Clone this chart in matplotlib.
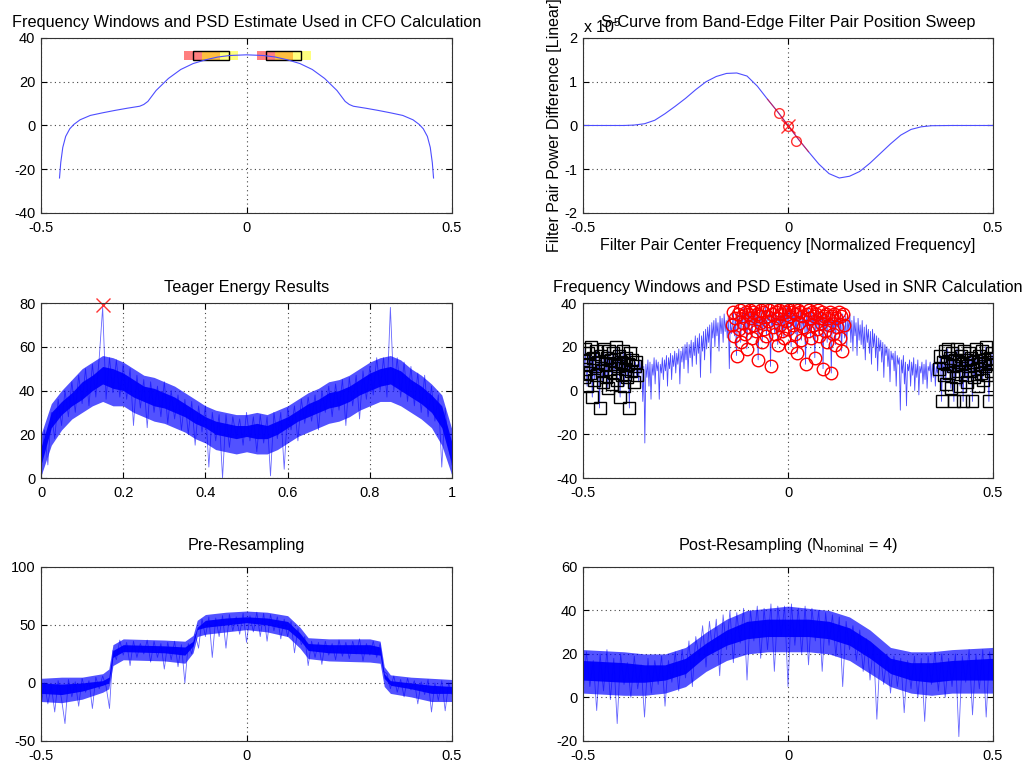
"""Six-panel receiver diagnostics figure (CFO, S-curve, Teager, SNR, resampling)."""

import matplotlib

matplotlib.use("Agg")
import matplotlib.pyplot as plt
import numpy as np
from matplotlib.patches import Rectangle
from matplotlib.ticker import FormatStrFormatter

# ---------------------------------------------------------------- data
# CFO panel: smoothed PSD estimate (dB) and the two band-edge windows
cfo_freq = [-0.455, -0.452, -0.447, -0.44, -0.43, -0.42, -0.405, -0.38, -0.35,
            -0.32, -0.29, -0.26, -0.25, -0.24, -0.22, -0.19, -0.16, -0.13, -0.10,
            -0.07, -0.04, 0.0, 0.04, 0.07, 0.10, 0.13, 0.16, 0.19, 0.22, 0.24,
            0.25, 0.26, 0.29, 0.32, 0.35, 0.38, 0.405, 0.42, 0.43, 0.44, 0.447,
            0.452, 0.455]
cfo_psd = [-24, -17, -10, -5, -1.5, 0.5, 2.6, 4.6, 5.8, 6.9, 7.9, 8.8, 9.6, 11,
           16, 21.5, 25.6, 28.3, 30, 31.3, 32, 32.3, 32, 31.3, 30, 28.3, 25.6,
           21.5, 16, 11, 9.6, 8.8, 7.9, 6.9, 5.8, 4.6, 2.6, 0.5, -1.5, -5, -10,
           -17, -24]
cfo_red_windows = [(-0.152, -0.064), (0.025, 0.112)]
cfo_yellow_windows = [(-0.109, -0.021), (0.069, 0.156)]
cfo_box_windows = [(-0.131, -0.043), (0.047, 0.133)]
cfo_window_db = (30, 34)

# S-curve (power difference, units of 1e5)
scurve_freq = [-0.5, -0.4, -0.375, -0.35, -0.325, -0.3, -0.275, -0.25, -0.225,
               -0.2, -0.175, -0.15, -0.125, -0.1, -0.075, -0.05, -0.025, 0.0,
               0.025, 0.05, 0.075, 0.1, 0.125, 0.15, 0.175, 0.2, 0.225, 0.25,
               0.275, 0.3, 0.325, 0.35, 0.4, 0.5]
scurve_diff = [0, 0, 0.01, 0.04, 0.12, 0.27, 0.44, 0.62, 0.82, 1.0, 1.12, 1.19,
               1.2, 1.13, 0.9, 0.6, 0.31, 0.0, -0.31, -0.6, -0.88, -1.1, -1.2,
               -1.16, -1.05, -0.86, -0.64, -0.42, -0.22, -0.09, -0.03, -0.005, 0,
               0]
scurve_fit_freq = [-0.023, 0.0195]
scurve_fit_diff = [0.28, -0.35]
scurve_zero = (0.0, -0.02)

# Teager energy (x in 0..1): outer spread, dense core and a sampled trace
teager_outer_hi = [20, 34, 40, 45, 50, 53, 56, 55, 53, 50, 47, 46, 44, 42, 39, 36,
                   33, 31, 30, 29, 29, 30, 29, 31, 33, 36, 39, 41, 44, 45, 47, 50,
                   53, 55, 56, 54, 50, 47, 43, 38, 22]
teager_outer_lo = [1, 15, 22, 27, 30, 33, 35, 33, 33, 30, 28, 26, 25, 23, 21, 18,
                   16, 13, 12, 11, 12, 11, 11, 13, 16, 19, 21, 23, 25, 26, 28, 31,
                   33, 35, 35, 33, 30, 27, 23, 15, 1]
teager_core_hi = [14, 30, 35, 39, 44, 47, 51, 50, 48, 45, 42, 41, 39, 37, 34, 31,
                  28, 26, 25, 24, 24, 25, 24, 26, 28, 31, 34, 36, 39, 40, 42, 45,
                  48, 50, 51, 49, 45, 42, 38, 33, 16]
teager_core_lo = [6, 23, 29, 33, 36, 40, 43, 41, 40, 37, 35, 33, 32, 30, 28, 25,
                  23, 20, 19, 18, 19, 18, 18, 20, 23, 26, 28, 30, 32, 33, 35, 38,
                  40, 42, 43, 40, 37, 34, 30, 23, 6]
teager_trace = [3, 22, 6, 30, 18, 36, 24, 40, 28, 44, 30, 47, 34, 50, 33, 52, 37,
                55, 78, 36, 55, 39, 54, 37, 52, 36, 50, 24, 47, 32, 45, 23, 44,
                30, 42, 28, 44, 25, 40, 27, 38, 22, 36, 20, 35, 15, 33, 21, 33, 5,
                30, 17, 29, 0, 29, 14, 28, 19, 27, 15, 30, 17, 28, 12, 29, 16, 28,
                1, 30, 18, 30, 4, 32, 22, 33, 17, 36, 25, 37, 26, 38, 22, 40, 30,
                42, 28, 43, 31, 45, 24, 46, 33, 47, 27, 49, 36, 51, 38, 55, 40, 55,
                37, 78, 40, 55, 37, 53, 35, 51, 33, 48, 30, 47, 28, 42, 26, 38, 5,
                32, 14, 6]
teager_peak = (0.15, 79)

# SNR panel: PSD estimate (dB) on a uniform grid from -0.5 to 0.5
snr_noise_left = [14, 6, 19, 10, 2, 17, 12, 8, 20, -3, 15, 5, 11, 18, 7, 13, -8,
                  16, 9, 4, 19, 12, 6, 15, 1, 18, 10, 14, 3, 17, 8, 12, 20, 5, 11,
                  16, -3, 13, 7, 18, 2, 10, 15, 6, 12, -8, 17, 9, 14, 4, 11, 13, 7]
snr_rise = [12, 4, 14, 8, 13, -5, 11, -24, 12, 6, 14, 2, 13, -4, 12, 7, 15, 3, 14,
            9, 13, -4, 12, 8, 15, 5, 14, 9, 16, 2, 15, 10, 17, 5, 16, 11, 18, 8,
            17, 12, 19, 3, 18, 13, 20, 10, 21, 14, 22, 8, 21, 15, 23, 11, 22, 16,
            25, 12, 24, 17, 26, 6, 25, 18, 27, 14, 28, 19, 29, 22, 30, 8, 31, 24,
            32, 20, 33, 25, 31, 18, 34, 26, 33, 22, 35, 27, 32, 24, 34, 10, 33, 26]
snr_signal = [30, 36, 25, 33, 16, 35, 28, 37, 22, 34, 31, 38, 26, 36, 19, 35, 29,
              37, 33, 24, 36, 30, 38, 27, 35, 14, 34, 31, 37, 22, 36, 28, 39, 25,
              34, 32, 37, 11, 35, 29, 38, 26, 36, 33, 21, 37, 30, 35, 27, 38, 24,
              36, 32, 39, 28, 37, 34, 20, 36, 30, 38, 26, 35, 17, 37, 31, 36, 23,
              34, 29, 38, 12, 35, 27, 37, 33, 24, 36, 30, 34, 15, 35, 28, 37, 25,
              33, 31, 36, 10, 34, 27, 35, 22, 33, 30, 36, 8, 34, 26, 35, 21, 33,
              29, 36, 24, 34, 18, 35, 30]
snr_fall = [24, 34, 20, 33, 27, 35, 22, 32, 18, 34, 25, 31, 16, 33, 23, 30, 21,
            32, 19, 29, 14, 30, 22, 28, 17, 27, 12, 28, 20, 26, 15, 25, 9, 24, 18,
            23, 13, 22, 6, 21, 16, 20, 11, 19, 4, 18, 14, 17, 9, 18, 2, 16, 12,
            15, -9, 14, 8, 16, 3, 13, -7, 12, 9, 14, 2, 13, 7, 15, 0, 12, 6, 14,
            -2, 11, 8, 13, 3, 12, 5, 14, 1, 11, 9, 13, 4, 12, 6, 14, 2, 11, 8, 12]
snr_noise_right = [10, 16, -5, 13, 7, 18, 3, 12, 19, 8, 15, 1, 17, 11, -5, 14, 6,
                   19, 9, 13, 2, 16, 12, -5, 18, 7, 14, 4, 11, 17, 9, 15, -5, 13,
                   6, 19, 10, 2, 16, 12, 8, 18, 5, 14, 11, 20, 7, 13, -5, 15, 9,
                   17, 12]
snr_noise_edge = 0.369
snr_signal_edge = 0.137

# Pre-resampling spectrum
pre_env_x = [-0.5, -0.45, -0.4, -0.35, -0.335, -0.325, -0.3, -0.2, -0.15, -0.13,
             -0.12, -0.1, -0.05, 0, 0.05, 0.1, 0.13, 0.15, 0.2, 0.3, 0.325, 0.335,
             0.35, 0.4, 0.45, 0.5]
pre_outer_hi = [4, 5, 5, 8, 12, 33, 38, 37, 36, 41, 54, 59, 61, 62, 61, 58, 48, 39,
                38, 38, 36, 14, 7, 5, 4, 3]
pre_outer_lo = [-16, -17, -14, -8, -5, 15, 20, 19, 17, 26, 40, 42, 44, 46, 44, 40,
                30, 21, 19, 18, 17, -3, -9, -12, -16, -16]
pre_core_hi = [0, -1, 0, 2, 5, 28, 33, 32, 31, 36, 48, 54, 56, 57, 56, 53, 43, 34,
               33, 33, 31, 8, 2, 0, -2, -3]
pre_core_lo = [-9, -10, -7, -2, 0, 22, 27, 26, 24, 32, 46, 48, 50, 52, 50, 46, 37,
               28, 26, 25, 24, 4, -2, -5, -9, -9]
pre_trace = [-20, 0, -18, -2, -25, 2, -14, -35, 3, -12, 1, -20, 4, -8, 2, -22, 5,
             -5, 6, -3, -22, 28, 20, 37, 24, 35, 15, 36, 22, 34, 25, 37, 18, 36,
             22, 34, 12, 35, 20, 36, 14, 33, 0, 34, 25, 42, 30, 55, 40, 57, 22,
             56, 40, 58, 30, 59, 45, 57, 42, 60, 35, 58, 44, 61, 40, 60, 36, 59,
             45, 57, 38, 55, 40, 53, 26, 47, 33, 40, 15, 36, 22, 35, 16, 36, 24,
             34, 20, 37, 23, 35, 21, 36, 25, 38, 19, 34, 24, 36, 22, 34, 10, 8,
             -5, 6, -8, 3, -12, 4, -6, 2, -18, 1, -10, 3, -25, 0, -15, 2, -24, 0,
             -10]

# Post-resampling spectrum
post_env_x = [-0.5, -0.4, -0.35, -0.3, -0.25, -0.2, -0.15, -0.1, -0.05, 0, 0.05,
              0.1, 0.15, 0.2, 0.25, 0.3, 0.35, 0.4, 0.5]
post_outer_hi = [22, 21, 20, 20, 23, 30, 36, 40, 41, 42, 41, 40, 37, 31, 23, 21,
                 21, 22, 23]
post_outer_lo = [2, 1, 1, 2, 5, 12, 17, 20, 21, 21, 21, 20, 17, 11, 5, 2, 1, 2, 2]
post_core_hi = [17, 16, 15, 15, 18, 25, 31, 35, 36, 36, 36, 35, 32, 26, 18, 16,
                16, 17, 18]
post_core_lo = [8, 7, 7, 8, 11, 19, 24, 27, 28, 28, 28, 27, 24, 18, 11, 8, 7, 8, 8]
post_trace = [2, 21, 5, 17, -6, 20, 3, 22, -1, 18, -12, 20, 6, 16, 0, 19, 4, 15,
              -9, 18, 2, 17, 6, 19, -4, 17, 7, 21, 3, 22, 9, 26, 5, 28, 18, 33,
              14, 35, 20, 36, 10, 38, 22, 40, 16, 39, 25, 41, 8, 40, 26, 42, 18,
              41, 22, 43, 12, 42, 28, 42, 5, 43, 24, 41, 20, 42, 15, 41, 26, 40,
              12, 39, 24, 38, 19, 37, 5, 35, 22, 33, 17, 31, 12, 27, 8, 24, -10,
              21, 6, 20, 2, 19, 5, 18, -7, 17, 4, 19, 0, 18, -11, 19, 6, 21, 3,
              20, 0, 18, 5, 20, -18, 19, 7, 22, -8, 20, 4, 22, -9, 21, 8]

# ---------------------------------------------------------------- style
FONT = ["Liberation Sans", "DejaVu Sans"]
plt.rcParams.update({
    "font.family": FONT,
    "font.size": 11,
    "axes.titlesize": 11.7,
    "axes.labelsize": 11.5,
    "xtick.labelsize": 10.5,
    "ytick.labelsize": 10.5,
    "axes.unicode_minus": False,
    "mathtext.fontset": "custom",
    "mathtext.rm": "Liberation Sans",
    "mathtext.it": "Liberation Sans",
    "axes.linewidth": 0.8,
    "axes.edgecolor": "#333333",
    "xtick.direction": "in",
    "ytick.direction": "in",
    "xtick.top": True,
    "ytick.right": True,
    "xtick.major.size": 4,
    "ytick.major.size": 4,
    "xtick.major.pad": 6,
    "ytick.major.pad": 4,
})
BLUE = "#0000ff"


def style_axes(ax, xlim, xticks, ylim, yticks):
    ax.set_xlim(*xlim)
    ax.set_ylim(*ylim)
    ax.set_xticks(xticks)
    ax.set_yticks(yticks)
    ax.xaxis.set_major_formatter(FormatStrFormatter("%g"))
    ax.yaxis.set_major_formatter(FormatStrFormatter("%g"))
    ax.grid(True, linestyle=(0, (1, 3)), color="#444444", linewidth=0.8)
    ax.set_axisbelow(True)


def noisy_panel(ax, env_x, outer, core, trace, xlim):
    """Outer spread, saturated core band and the sampled spike trace."""
    tx = np.linspace(xlim[0], xlim[1], len(trace))
    ax.fill_between(env_x, outer[0], outer[1], color=BLUE, alpha=0.68, linewidth=0)
    ax.plot(tx, trace, color=BLUE, linewidth=0.6, alpha=0.6)
    ax.fill_between(env_x, core[0], core[1], color=BLUE, alpha=0.95, linewidth=0)


fig = plt.figure(figsize=(10.33, 7.72), dpi=100)
col_left = [0.0397, 0.3979]
col_right = [0.5644, 0.3969]
rows = [(0.7241, 0.2267), (0.3808, 0.2267), (0.0402, 0.2254)]


def make_axes(col, row):
    return fig.add_axes([col[0], row[0], col[1], row[1]])


# 1. CFO windows
ax = make_axes(col_left, rows[0])
style_axes(ax, (-0.5, 0.5), [-0.5, 0, 0.5], (-40, 40), [-40, -20, 0, 20, 40])
lo_db, hi_db = cfo_window_db
for x0, x1 in cfo_red_windows:
    ax.add_patch(Rectangle((x0, lo_db), x1 - x0, hi_db - lo_db, facecolor="red",
                           alpha=0.5, edgecolor="none"))
for x0, x1 in cfo_yellow_windows:
    ax.add_patch(Rectangle((x0, lo_db), x1 - x0, hi_db - lo_db, facecolor="yellow",
                           alpha=0.5, edgecolor="none"))
for x0, x1 in cfo_box_windows:
    ax.add_patch(Rectangle((x0, lo_db), x1 - x0, hi_db - lo_db, facecolor="none",
                           edgecolor="black", linewidth=1.0))
ax.plot(cfo_freq, cfo_psd, color="#4d4dff", linewidth=0.8)
ax.set_title("Frequency Windows and PSD Estimate Used in CFO Calculation", pad=8)

# 2. S-curve
ax = make_axes(col_right, rows[0])
style_axes(ax, (-0.5, 0.5), [-0.5, 0, 0.5], (-2, 2), [-2, -1, 0, 1, 2])
ax.plot(scurve_freq, scurve_diff, color="#4d4dff", linewidth=0.8)
fit = [(f, d) for f, d in zip(scurve_freq, scurve_diff) if abs(f) <= 0.05]
ax.plot([f for f, _ in fit], [d for _, d in fit], color="red", linewidth=0.8,
        alpha=0.6)
ax.plot(scurve_fit_freq, scurve_fit_diff, "o", color="red", mfc="none",
        markersize=7, alpha=0.8)
ax.plot([scurve_zero[0]], [scurve_zero[1]], "o", color="red", mfc="none",
        markersize=7, alpha=0.8)
ax.plot([scurve_zero[0]], [scurve_zero[1]], "x", color="red", markersize=10,
        alpha=0.8)
ax.set_title("S-Curve from Band-Edge Filter Pair Position Sweep", pad=8)
ax.text(0.0, 1.01, r"x 10$^{5}$", transform=ax.transAxes, ha="left",
        va="bottom", fontsize=11.5)
ax.set_xlabel("Filter Pair Center Frequency [Normalized Frequency]", labelpad=2)
ax.set_ylabel("Filter Pair Power Difference [Linear]", labelpad=2)

# 3. Teager energy
ax = make_axes(col_left, rows[1])
style_axes(ax, (0, 1), [0, 0.2, 0.4, 0.6, 0.8, 1], (0, 80), [0, 20, 40, 60, 80])
teager_env_x = np.linspace(0, 1, len(teager_core_hi))
noisy_panel(ax, teager_env_x, (teager_outer_lo, teager_outer_hi),
            (teager_core_lo, teager_core_hi), teager_trace, (0, 1))
ax.plot([teager_peak[0]], [teager_peak[1]], "x", color="red", markersize=10,
        alpha=0.8, clip_on=False)
ax.set_title("Teager Energy Results", pad=8)

# 4. SNR windows
ax = make_axes(col_right, rows[1])
style_axes(ax, (-0.5, 0.5), [-0.5, 0, 0.5], (-40, 40), [-40, -20, 0, 20, 40])
snr_vals = np.asarray(snr_noise_left + snr_rise + snr_signal + snr_fall
                      + snr_noise_right, dtype=float)
snr_freq = np.linspace(-0.5, 0.5, len(snr_vals))
ax.plot(snr_freq, snr_vals, color=BLUE, linewidth=0.6, alpha=0.7)
noise = np.abs(snr_freq) >= snr_noise_edge
signal = np.abs(snr_freq) <= snr_signal_edge
ax.plot(snr_freq[noise], snr_vals[noise], "s", mfc="none", mec="black",
        markersize=8.5, mew=1.0)
ax.plot(snr_freq[signal], snr_vals[signal], "o", mfc="none", mec="red",
        markersize=9, mew=1.0)
ax.set_title("Frequency Windows and PSD Estimate Used in SNR Calculation", pad=8)

# 5. Pre-resampling
ax = make_axes(col_left, rows[2])
style_axes(ax, (-0.5, 0.5), [-0.5, 0, 0.5], (-50, 100), [-50, 0, 50, 100])
noisy_panel(ax, pre_env_x, (pre_outer_lo, pre_outer_hi),
            (pre_core_lo, pre_core_hi), pre_trace, (-0.5, 0.5))
ax.set_title("Pre-Resampling", pad=12)

# 6. Post-resampling
ax = make_axes(col_right, rows[2])
style_axes(ax, (-0.5, 0.5), [-0.5, 0, 0.5], (-20, 60), [-20, 0, 20, 40, 60])
noisy_panel(ax, post_env_x, (post_outer_lo, post_outer_hi),
            (post_core_lo, post_core_hi), post_trace, (-0.5, 0.5))
ax.set_title(r"Post-Resampling (N$_{\mathrm{nominal}}$ = 4)", pad=12)

fig.savefig("out.png", dpi=100)
